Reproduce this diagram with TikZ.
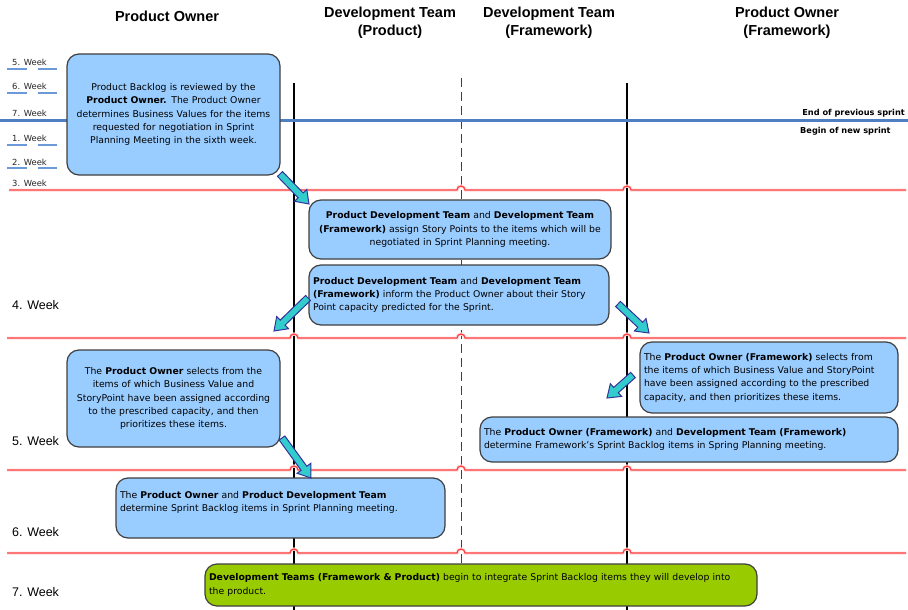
\documentclass[tikz,border=0pt]{standalone}
\usepackage{fontspec}
\setmainfont{DejaVu Sans}
\newfontfamily\headfont{Liberation Sans}
\usetikzlibrary{calc}

\definecolor{boxblue}{HTML}{99CCFF}
\definecolor{boxedge}{HTML}{3F3F3F}
\definecolor{boxgreen}{HTML}{99CC00}
\definecolor{sprintblue}{HTML}{4F7FC0}
\definecolor{tickblue}{HTML}{6A9AD8}
\definecolor{weekred}{HTML}{FF4040}
\definecolor{arrowteal}{HTML}{33CCCC}
\definecolor{arrownavy}{HTML}{333399}

% block arrow from tail coordinate #1 to tip coordinate #2
\newcommand\blockarrow[2]{%
  \coordinate (ba-n) at ($(#2)!12pt!(#1)$);
  \draw[flowarrow] ($(#1)!3.5pt!90:(#2)$) -- ($(ba-n)!3.5pt!-90:(#1)$)
    -- ($(ba-n)!8.5pt!-90:(#1)$) -- (#2) -- ($(ba-n)!8.5pt!90:(#1)$)
    -- ($(ba-n)!3.5pt!90:(#1)$) -- ($(#1)!3.5pt!-90:(#2)$) -- cycle;}

\tikzset{
  head/.style={font=\headfont\bfseries\fontsize{14.5}{18}\selectfont, align=center, inner sep=0pt},
  bigweek/.style={font=\headfont\fontsize{12.5}{14}\selectfont, anchor=west, inner sep=0pt},
  smallweek/.style={font=\fontsize{8.4}{10}\selectfont, anchor=west, inner sep=0pt, text=black!85},
  sprintnote/.style={font=\bfseries\fontsize{8.2}{10}\selectfont, inner sep=0pt},
  lane/.style={draw=black, line width=1.8pt},
  midlane/.style={draw=black!75, line width=1pt, dash pattern=on 9pt off 5pt},
  sprintline/.style={draw=sprintblue, line width=3pt},
  tick/.style={draw=tickblue, line width=1.2pt},
  weekline/.style={draw=weekred, line width=1.2pt, preaction={draw=red!14, line width=3pt}},
  infobox/.style={draw=boxedge, fill=boxblue, rounded corners=12pt, line width=1.2pt,
    inner xsep=4pt, inner ysep=2pt, font=\fontsize{9.3}{13.3}\selectfont},
  flowarrow/.style={fill=arrowteal, draw=arrownavy, line width=1pt, line join=miter},
}

\begin{document}
\begin{tikzpicture}[x=1pt, y=-1pt]
\useasboundingbox (0,0) rectangle (908,610);
\fill[white] (0,0) rectangle (908,610);

% column headings
\node[head] (h1) at (167,16) {Product Owner};
\node[head] (h2) at (390,23) {Development Team\\(Product)};
\node[head] (h3) at (549,23) {Development Team\\(Framework)};
\node[head] (h4) at (787,23) {Product Owner\\(Framework)};

% swim lane separators
\coordinate (l1t) at (294,83);  \coordinate (l1b) at (294,610);
\coordinate (l2t) at (461,78);  \coordinate (l2b) at (461,610);
\coordinate (l3t) at (627,83);  \coordinate (l3b) at (627,610);
\draw[lane] (l1t) -- (l1b);
\draw[midlane] (l2t) -- (l2b);
\draw[lane] (l3t) -- (l3b);

% sprint boundary
\coordinate (sw) at (0,120); \coordinate (se) at (908,120);
\draw[sprintline] (sw) -- (se);
\node[sprintnote, anchor=east] (endprev) at (905,113) {End of previous sprint};
\node[sprintnote, anchor=west] (beginnew) at (800,131) {Begin of new sprint};

% previous-sprint week marks
\node[smallweek] (sw5) at (12,62) {5. Week};
\node[smallweek] (sw6) at (12,86) {6. Week};
\node[smallweek] (sw7) at (12,113) {7. Week};
\node[smallweek] (sw1) at (12,138) {1. Week};
\node[smallweek] (sw2) at (12,162) {2. Week};
\node[smallweek] (sw3) at (12,183) {3. Week};
\foreach \yy in {69,93,145,168}{
  \draw[tick] (7,\yy) -- (27,\yy);
  \draw[tick] (38,\yy) -- (57,\yy);
}

% week separators, hopping over the lane lines
\draw[weekline] (9,190) -- (457,190) arc[start angle=180,end angle=360,radius=4]
  -- (623,190) arc[start angle=180,end angle=360,radius=4] -- (906,190);
\foreach \yy in {338,470,553}{
  \draw[weekline] (7,\yy) -- (290,\yy) arc[start angle=180,end angle=360,radius=4]
    -- (457,\yy) arc[start angle=180,end angle=360,radius=4]
    -- (623,\yy) arc[start angle=180,end angle=360,radius=4] -- (906,\yy);
}

% week labels
\node[bigweek] (w4) at (12,305) {4. Week};
\node[bigweek] (w5) at (12,441) {5. Week};
\node[bigweek] (w6) at (12,532) {6. Week};
\node[bigweek] (w7) at (12,592) {7. Week};

% activities
\node[infobox, text width=205pt, minimum height=121pt, align=center] (b1) at (173.5,114.5)
  {Product Backlog is reviewed by the\\
   \textbf{Product Owner.} The Product Owner\\
   determines Business Values for the items\\
   requested for negotiation in Sprint\\
   Planning Meeting in the sixth week.};
\node[infobox, text width=294pt, minimum height=59pt, align=center] (b2) at (460,229.5)
  {\textbf{Product Development Team} and \textbf{Development Team}\\
   \textbf{(Framework)} assign Story Points to the items which will be\\
   negotiated in Sprint Planning meeting.};
\node[infobox, text width=292pt, minimum height=60pt, align=left] (b3) at (459,295)
  {\textbf{Product Development Team} and \textbf{Development Team}\\
   \textbf{(Framework)} inform the Product Owner about their Story\\
   Point capacity predicted for the Sprint.};
\node[infobox, text width=205pt, minimum height=97pt, align=center] (b4) at (173.5,398.5)
  {The \textbf{Product Owner} selects from the\\
   items of which Business Value and\\
   StoryPoint have been assigned according\\
   to the prescribed capacity, and then\\
   prioritizes these items.\\[4pt]};
\node[infobox, text width=250pt, minimum height=71pt, align=left] (b5) at (769,377.5)
  {The \textbf{Product Owner (Framework)} selects from\\
   the items of which Business Value and StoryPoint\\
   have been assigned according to the prescribed\\
   capacity, and then prioritizes these items.};
\node[infobox, text width=410pt, minimum height=45pt, align=left] (b6) at (689,439.5)
  {The \textbf{Product Owner (Framework)} and \textbf{Development Team (Framework)}\\
   determine Framework's Sprint Backlog items in Spring Planning meeting.};
\node[infobox, text width=321pt, minimum height=60pt, align=left] (b7) at (280.5,508)
  {The \textbf{Product Owner} and \textbf{Product Development Team}\\
   determine Sprint Backlog items in Sprint Planning meeting.\\
   \mbox{}};
\node[infobox, fill=boxgreen, text width=544pt, minimum height=42pt, align=left] (b8) at (481,585)
  {\textbf{Development Teams (Framework \& Product)} begin to integrate Sprint Backlog items they will develop into\\
   the product.};

% hand-over arrows
\coordinate (a1t) at (280,174); \coordinate (a1h) at (309,204);
\coordinate (a2t) at (308,298); \coordinate (a2h) at (274,331);
\coordinate (a3t) at (618,304); \coordinate (a3h) at (649,333);
\coordinate (a4t) at (633,375); \coordinate (a4h) at (607,398);
\coordinate (a5t) at (282,438); \coordinate (a5h) at (311,478);
\blockarrow{a1t}{a1h}
\blockarrow{a2t}{a2h}
\blockarrow{a3t}{a3h}
\blockarrow{a4t}{a4h}
\blockarrow{a5t}{a5h}
\end{tikzpicture}
\end{document}
